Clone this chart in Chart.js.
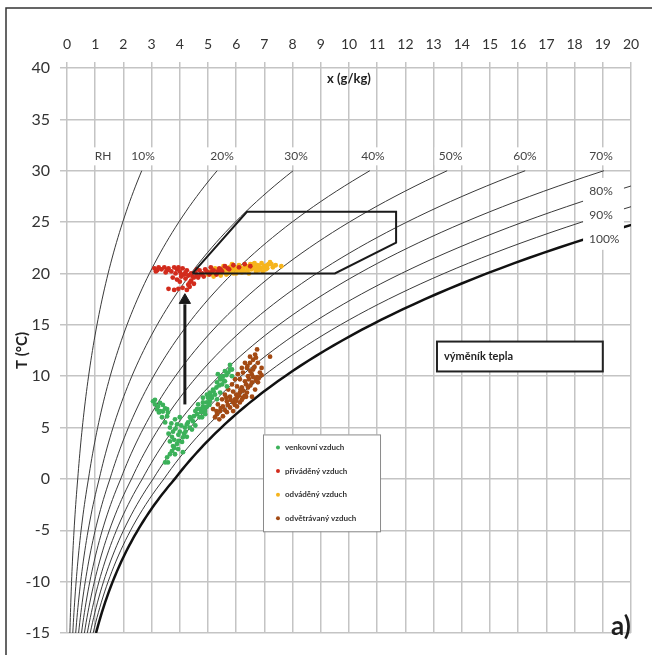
<!DOCTYPE html>
<html lang="cs">
  <head>
    <meta charset="UTF-8" />
    <title>h-x diagram</title>
    <script src="https://cdn.jsdelivr.net/npm/chart.js@4.4.1/dist/chart.umd.min.js"></script>
    <style>
      body { margin: 0; background: #fff; }
      #wrap { width: 652px; height: 655px; }
    </style>
  </head>
  <body>
    <div id="wrap"><canvas id="myChart" width="652" height="655"></canvas></div>
    <script>
      // measured points, [x g/kg, T °C]
      const venkovni = [
        [3.05,7.55],[3.12,7.25],[3.19,6.76],[3.26,6.47],[3.4,6.56],[3.48,6.86],[3.58,6.47],[3.12,7.7],
        [3.23,7.05],[3.3,6.6],[3.37,6.0],[3.48,5.5],[3.55,6.1],[3.65,5.0],[3.76,4.6],[3.72,4.1],
        [3.65,3.65],[3.76,3.2],[3.72,2.7],[3.83,2.4],[3.58,1.6],[3.55,2.1],[3.94,2.9],[4.08,3.6],
        [4.11,4.05],[4.0,4.6],[4.18,5.0],[4.29,5.5],[4.36,6.0],[4.47,5.6],[4.61,6.3],[4.72,6.8],
        [4.65,7.25],[4.82,7.05],[4.96,7.45],[3.9,5.3],[3.83,5.8],[4.0,6.0],[4.25,4.1],[4.43,4.8],
        [4.79,6.0],[4.9,6.3],[4.11,2.6],[5.6,10.5],[5.72,10.35],[5.53,10.0],[5.43,9.7],[5.32,9.4],
        [5.5,9.2],[5.6,9.5],[5.18,8.7],[5.07,8.4],[4.96,8.2],[4.82,7.9],[5.14,7.9],[5.25,8.2],
        [4.82,7.45],[5.07,7.55],[4.61,6.8],[5.35,10.2],[5.78,10.65],[5.85,10.0],[5.67,9.0],[5.43,8.4],
        [5.32,7.75],[4.89,6.6],[5.78,11.1],[5.85,10.65],[3.48,1.6],[3.9,3.4],[4.2,4.6],[4.55,5.2],
        [3.6,4.4],[3.7,5.4],[3.8,3.8],[3.85,4.9],[3.95,4.3],[4.05,5.2],[4.15,4.4],[4.25,5.3],
        [4.35,5.0],[4.4,5.8],[4.5,6.1],[4.55,6.6],[4.7,6.0],[4.75,6.5],[4.85,6.8],[4.95,7.0],
        [5.0,7.9],[5.1,8.1],[5.2,8.5],[5.3,8.9],[5.4,9.1],[5.45,9.9],[5.55,9.6],[5.65,10.1],
        [5.05,7.2],[3.65,2.4],[3.8,3.0],[3.95,3.7],[3.4,7.2],[3.55,6.8],[3.3,7.4]
      ];
      const privadeny = [
        [3.1,20.5],[3.2,20.3],[3.25,20.6],[3.35,20.4],[3.5,20.1],[3.6,20.5],[3.7,20.2],[3.8,20.6],
        [3.85,20.0],[3.9,20.4],[4.0,20.2],[4.1,20.5],[4.15,19.9],[4.25,20.3],[3.75,19.6],[3.9,19.4],
        [4.05,19.7],[4.2,19.5],[4.3,19.8],[4.4,19.3],[4.45,19.7],[4.35,19.1],[4.5,19.0],[3.6,18.5],
        [3.8,18.4],[3.95,18.5],[4.1,18.6],[4.25,18.4],[4.35,18.7],[4.55,20.1],[4.6,19.8],[4.7,20.3],
        [4.8,20.0],[4.9,20.4],[5.0,20.1],[5.1,20.6],[5.2,20.3],[5.3,19.9],[5.4,20.5],[5.5,20.2],
        [5.6,20.7],[5.75,20.4],[5.9,20.8],[6.1,20.6],[6.3,20.9],[6.5,20.7],[4.65,19.6],[4.85,19.7],
        [3.15,20.2],[3.45,20.6],[3.55,20.3],[3.95,20.6],[4.05,19.9],[4.2,20.1],[4.4,20.0],[4.5,19.6],
        [4.6,20.4],[4.75,19.9],[4.95,20.2],[5.05,19.9],[5.15,20.2],[5.35,20.2],[5.45,20.4],[5.7,20.5],
        [4.3,18.9],[4.0,19.2]
      ];
      const odvadeny = [
        [5.0,19.9],[5.1,20.2],[5.2,19.7],[5.3,20.0],[5.35,20.4],[5.45,19.8],[5.5,20.1],[5.6,20.3],
        [5.65,19.9],[5.75,20.6],[5.8,20.2],[5.9,20.0],[5.95,20.5],[6.05,20.3],[6.1,20.8],[6.2,20.1],
        [6.25,20.5],[6.35,20.7],[6.4,20.3],[6.5,20.9],[6.55,20.4],[6.6,20.6],[6.7,20.2],[6.75,20.8],
        [6.85,20.5],[6.9,21.0],[7.0,20.7],[7.05,20.4],[7.15,20.9],[7.2,21.1],[7.3,20.6],[7.6,20.7],
        [5.55,20.7],[5.85,20.9],[6.0,20.0],[6.3,20.2],[6.45,20.0],[6.65,21.0],[6.8,20.3],[6.95,20.2],
        [7.1,20.5],[5.25,20.5],[5.7,20.0],[6.15,20.6],[6.6,20.9],[5.15,20.0],[5.4,20.3],[5.6,20.5],
        [5.9,20.4],[6.05,20.6],[6.2,20.4],[6.4,20.6],[6.55,20.7],[6.7,20.5],[6.8,20.7],[6.95,20.6],
        [7.1,20.8],[7.25,20.9],[7.4,20.8],[5.8,20.5],[6.1,20.3]
      ];
      const odvetravany = [
        [6.74,12.6],[6.67,12.1],[6.6,11.6],[6.49,11.3],[6.77,11.3],[6.38,10.8],[6.6,10.65],[6.84,10.35],
        [6.24,10.35],[6.42,10.0],[6.74,9.9],[6.13,9.7],[6.31,9.5],[6.56,9.4],[6.77,9.4],[6.03,9.0],
        [6.2,8.9],[6.42,8.9],[6.67,8.7],[5.89,8.5],[6.13,8.4],[6.38,8.4],[5.78,8.0],[6.03,7.9],
        [6.24,7.9],[6.56,8.0],[5.67,7.55],[5.89,7.45],[6.13,7.45],[5.53,7.05],[5.78,6.95],[6.03,7.05],
        [5.43,6.6],[5.67,6.5],[5.32,6.3],[5.53,6.1],[5.89,6.6],[7.2,11.9],[5.18,6.8],[5.35,7.25],
        [5.5,7.75],[5.6,8.2],[5.72,8.7],[5.85,9.2],[5.96,9.7],[6.06,10.2],[6.2,10.8],[6.31,11.3],
        [6.49,11.9],[6.9,10.8],[5.25,6.0],[5.4,5.8],[6.3,8.1],[6.5,9.1],[6.0,8.2],[6.7,9.6],[5.95,7.2],
        [5.3,6.6],[5.45,6.9],[5.6,6.7],[5.7,7.2],[5.8,7.7],[5.95,7.75],[6.1,8.1],[6.15,8.7],
        [6.25,8.6],[6.35,9.2],[6.45,9.7],[6.55,10.2],[6.6,9.9],[6.65,10.9],[6.5,10.5],[6.4,11.0],
        [6.7,11.8],[6.8,9.8],[6.9,10.1],[6.0,7.6],[6.2,7.7],[6.35,8.0],[5.65,7.9]
      ];

      // comfort zone outline and arrow
      const zona = [[4.45,20],[6.38,26],[11.67,26],[11.67,23],[9.5,20],[4.45,20]];
      const sipka = [[4.18,7.25],[4.18,17.0]];
      const sipkaHrot = [[4.18,17.4]];

      // relative humidity curves
      const rhLevels = [10,20,30,40,50,60,70,80,90,100];
      const rhLabels = [
        { text: "RH", x: 1.28, y: 31.4 }, { text: "10%", x: 2.7, y: 31.4 },
        { text: "20%", x: 5.5, y: 31.4 }, { text: "30%", x: 8.12, y: 31.4 },
        { text: "40%", x: 10.85, y: 31.4 }, { text: "50%", x: 13.6, y: 31.4 },
        { text: "60%", x: 16.24, y: 31.4 }, { text: "70%", x: 18.94, y: 31.4 },
        { text: "80%", x: 18.94, y: 28.05 }, { text: "90%", x: 18.94, y: 25.7 },
        { text: "100%", x: 19.05, y: 23.3 }
      ];
      const legendNames = ["venkovní vzduch", "přiváděný vzduch", "odváděný vzduch", "odvětrávaný vzduch"];
      const colors = ["#3cb15a", "#d22b1c", "#f6b41c", "#a34a14"];

      function satPressure(t) {
        if (t < 0) return 611.2 * Math.exp((22.46 * t) / (272.62 + t));
        return 610.78 * Math.exp((17.27 * t) / (t + 237.3));
      }
      function moisture(t, rh) {
        const pv = (rh / 100) * satPressure(t);
        return (622 * pv) / (100000 - pv);
      }
      const temps = [];
      for (let i = -30; i <= 60; i++) temps.push(i / 2);

      const pts = (arr) => arr.map((p) => ({ x: p[0], y: p[1] }));

      const datasets = [
        { data: pts(zona), showLine: true, borderColor: "#1a1a1a", borderWidth: 2, pointRadius: 0, order: 0 },
        { data: pts(sipka), showLine: true, borderColor: "#1a1a1a", borderWidth: 3, pointRadius: 0, order: 0 },
        { data: pts(sipkaHrot), pointStyle: "triangle", pointRadius: 6.5, backgroundColor: "#1a1a1a", borderColor: "#1a1a1a", borderWidth: 1, order: 0 }
      ];
      [venkovni, privadeny, odvadeny, odvetravany].forEach((s, i) => {
        datasets.push({
          label: legendNames[i], data: pts(s), backgroundColor: colors[i],
          borderWidth: 0, pointRadius: 2.4, order: 1
        });
      });
      rhLevels.forEach((rh) => {
        datasets.push({
          data: temps.map((t) => ({ x: moisture(t, rh), y: t })),
          showLine: true, pointRadius: 0, order: 2,
          borderColor: rh === 100 ? "#111" : "#3a3a3a",
          borderWidth: rh === 100 ? 2.5 : 1,
          cubicInterpolationMode: "monotone"
        });
      });

      const overlay = {
        id: "overlay",
        beforeDraw(chart) {
          const c = chart.ctx;
          c.save();
          c.fillStyle = "#fff";
          c.fillRect(0, 0, chart.width, chart.height);
          c.restore();
        },
        afterDatasetsDraw(chart) {
          const c = chart.ctx;
          const xs = chart.scales.x, ys = chart.scales.y;
          const area = chart.chartArea;
          c.save();
          // white panel behind the 80-100 % labels, the curves end under it
          const wx0 = xs.getPixelForValue(18.3), wx1 = xs.getPixelForValue(19.75);
          const wy0 = ys.getPixelForValue(29.3), wy1 = ys.getPixelForValue(22.3);
          c.fillStyle = "#fff";
          c.fillRect(wx0, wy0, wx1 - wx0, wy1 - wy0);
          // RH labels
          c.font = "12px Lato";
          c.textAlign = "center";
          c.textBaseline = "middle";
          rhLabels.forEach((l) => {
            const px = xs.getPixelForValue(l.x), py = ys.getPixelForValue(l.y);
            const w = c.measureText(l.text).width + 8;
            c.fillStyle = "#fff";
            c.fillRect(px - w / 2, py - 9, w, 18);
            c.fillStyle = "#444";
            c.fillText(l.text, px, py);
          });
          // axis title inside plot
          c.font = "bold 13px Lato";
          c.fillStyle = "#222";
          c.fillText("x (g/kg)", (area.left + area.right) / 2, area.top + 11);

          // legend box
          const lx0 = xs.getPixelForValue(6.95), ly0 = ys.getPixelForValue(4.33);
          const lx1 = xs.getPixelForValue(11.1), ly1 = ys.getPixelForValue(-5.1);
          c.fillStyle = "#fff";
          c.fillRect(lx0, ly0, lx1 - lx0, ly1 - ly0);
          c.strokeStyle = "#8a8a8a";
          c.lineWidth = 1;
          c.strokeRect(lx0 + 0.5, ly0 + 0.5, lx1 - lx0, ly1 - ly0);
          c.font = "bold 8px Lato";
          c.textAlign = "left";
          legendNames.forEach((n, i) => {
            const yy = ly0 + 13 + i * 23.6;
            c.fillStyle = colors[i];
            c.beginPath();
            c.arc(lx0 + 15, yy, 2, 0, Math.PI * 2);
            c.fill();
            c.fillStyle = "#333";
            c.fillText(n, lx0 + 22, yy);
          });

          // heat exchanger label
          const bx0 = xs.getPixelForValue(13.12), by0 = ys.getPixelForValue(13.37);
          const bx1 = xs.getPixelForValue(19.0), by1 = ys.getPixelForValue(10.46);
          c.fillStyle = "#fff";
          c.fillRect(bx0, by0, bx1 - bx0, by1 - by0);
          c.strokeStyle = "#222";
          c.lineWidth = 2;
          c.strokeRect(bx0, by0, bx1 - bx0, by1 - by0);
          c.font = "bold 11px Lato";
          c.fillStyle = "#222";
          c.fillText("výměník tepla", bx0 + 7, (by0 + by1) / 2);

          // panel tag
          c.font = "bold 26px Lato";
          c.textAlign = "right";
          c.textBaseline = "alphabetic";
          c.fillStyle = "#1e1e1e";
          c.fillText("a)", area.right, area.bottom + 2);
          c.restore();
        },
        afterDraw(chart) {
          const c = chart.ctx;
          c.save();
          c.strokeStyle = "#333";
          c.lineWidth = 1.5;
          c.beginPath();
          c.moveTo(6, chart.height);
          c.lineTo(6, 8);
          c.lineTo(chart.width, 8);
          c.stroke();
          c.restore();
        }
      };

      const ctx = document.getElementById("myChart").getContext("2d");
      const myChart = new Chart(ctx, {
        type: "scatter",
        data: { datasets: datasets },
        options: {
          responsive: false,
          animation: false,
          devicePixelRatio: 1,
          layout: { padding: { left: 0, top: 0, right: 21, bottom: 22 } },
          plugins: { legend: { display: false }, tooltip: { enabled: false } },
          scales: {
            x: {
              type: "linear",
              position: "top",
              min: 0,
              max: 20,
              ticks: { stepSize: 1, padding: 9, color: "#333", font: { family: "Lato", size: 14 } },
              grid: { color: "#c4c4c4", lineWidth: 1.5, tickLength: 6 },
              border: { display: false },
              afterFit(s) { s.height = 68; }
            },
            y: {
              type: "linear",
              min: -15,
              max: 40,
              ticks: { stepSize: 5, padding: 10, color: "#333", font: { family: "Lato", size: 16 } },
              grid: { color: "#c4c4c4", lineWidth: 1.5, tickLength: 7 },
              border: { display: false },
              title: { display: true, text: "T (°C)", color: "#222", padding: { top: 13 }, font: { family: "Lato", size: 15, weight: "bold" } },
              afterFit(s) { s.width = 67; }
            }
          }
        },
        plugins: [overlay]
      });
    </script>
  </body>
</html>
